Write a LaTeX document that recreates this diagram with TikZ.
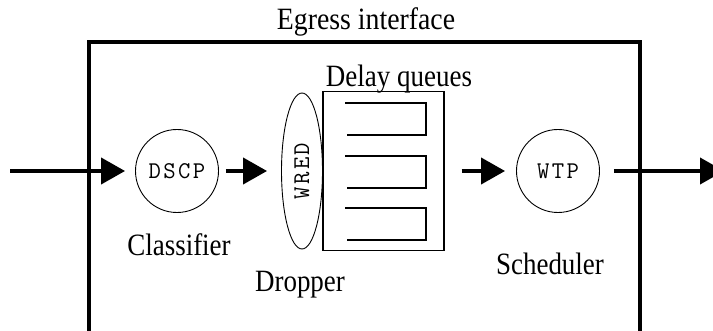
\documentclass[tikz,border=0pt]{standalone}
\usepackage{fontspec}
\setmainfont{Liberation Serif}
\newfontfamily\codefont[LetterSpace=10]{Latin Modern Mono}
\usetikzlibrary{arrows.meta,shapes.geometric}

\begin{document}
\begin{tikzpicture}[x=1pt,y=-1pt,
  font=\fontsize{31}{34}\selectfont,
  txt/.style={xscale=0.87},
  proc/.style={draw,circle,line width=0.9pt,minimum size=83pt,inner sep=0pt,
    font=\codefont\fontsize{24}{26}\selectfont},
  drop/.style={draw,ellipse,line width=0.9pt,rotate=90,minimum width=156pt,
    minimum height=41pt,inner sep=0pt,font=\codefont\fontsize{24}{26}\selectfont},
  qbox/.style={draw,line width=1.2pt,minimum width=121pt,minimum height=159pt,inner sep=0pt},
  flow/.style={line width=4pt,-{Triangle[length=24pt,width=26pt]}},
  frame/.style={line width=4pt}]
  \useasboundingbox (0,0) rectangle (713,331);
  % interface box, open at the bottom
  \draw[frame] (89,331) -- (89,42) -- (640,42) -- (640,331);
  \node[txt,xscale=1.03] (egress) at (366,22) {Egress interface};
  \coordinate (in) at (10,171);
  \coordinate (out) at (724,171);
  \node[proc] (dscp) at (177,171) {DSCP};
  \node[drop] (wred) at (302,171) {WRED};
  \node[qbox] (queues) at (383.5,171) {};
  \node[proc] (wtp) at (558,171) {WTP};
  % the three delay queues
  \foreach \y in {103,156,208}
    \draw[line width=1.2pt] (345,\y) -- (426,\y) -- (426,\y+32) -- (347,\y+32);
  \node[txt] (dq) at (399,79) {Delay queues};
  \node[txt] (cls) at (179,245) {Classifier};
  \node[txt] (dropper) at (300,285) {Dropper};
  \node[txt] (sched) at (550,264) {Scheduler};
  \draw[flow,shorten >=10pt] (in) -- (dscp);
  \draw[flow,shorten <=7pt,shorten >=14pt] (dscp) -- (wred);
  \draw[flow,shorten <=17pt,shorten >=11pt] (queues) -- (wtp);
  \draw[flow,shorten <=14pt] (wtp) -- (out);
\end{tikzpicture}
\end{document}
